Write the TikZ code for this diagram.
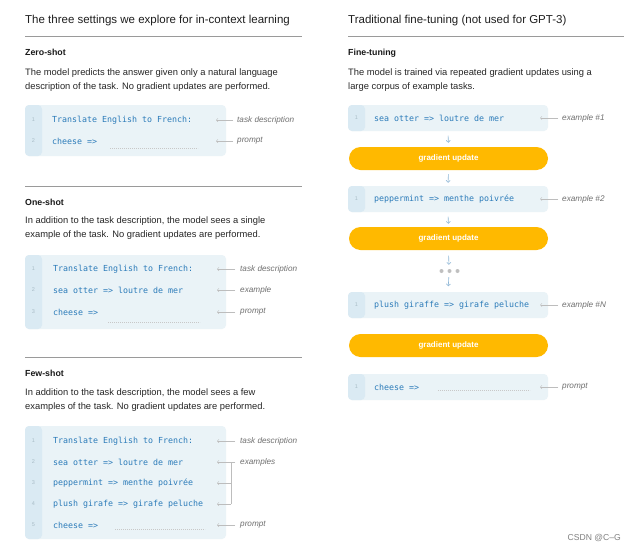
\documentclass[tikz,border=0pt]{standalone}
\usepackage{fontspec}
\setmainfont{Liberation Sans}
\setmonofont{DejaVu Sans Mono}
\usetikzlibrary{arrows.meta}
\definecolor{boxbg}{HTML}{EAF3F7}
\definecolor{stripec}{HTML}{DAEAF3}
\definecolor{codeblue}{HTML}{2B7BB9}
\definecolor{lnumc}{HTML}{A9BDC7}
\definecolor{notec}{HTML}{707070}
\definecolor{annc}{HTML}{BDBDBD}
\definecolor{rulec}{HTML}{9A9A9A}
\definecolor{gold}{HTML}{FFB900}
\definecolor{flowc}{HTML}{8DB6D6}
\definecolor{dotc}{HTML}{C8C8C8}
\tikzset{
  codebox/.style={fill=boxbg, rounded corners=4pt, inner sep=0pt, minimum width=#1,
    path picture={\fill[stripec] (path picture bounding box.north west) rectangle ([xshift=17pt]path picture bounding box.south west);}},
  codetxt/.style={anchor=west, font=\fontsize{8.3}{10}\ttfamily, text=codeblue, inner sep=0pt},
  lnum/.style={font=\fontsize{5.5}{6}\selectfont, text=lnumc, inner sep=0pt},
  note/.style={anchor=west, font=\fontsize{8.2}{9}\itshape, text=notec, inner sep=0pt},
  annarrow/.style={draw=annc, line width=0.5pt, -{Straight Barb[length=1.6pt,width=3.2pt]}},
  flowarrow/.style={draw=flowc, line width=0.6pt, -{Straight Barb[length=2pt,width=4pt]}},
  heading/.style={anchor=base west, font=\fontsize{11.5}{14}\selectfont, text=black!88, inner sep=0pt},
  subhead/.style={anchor=base west, font=\fontsize{8.8}{10}\bfseries, text=black!90, inner sep=0pt},
  body/.style={anchor=base west, font=\fontsize{9.35}{10}\selectfont, text=black!85, inner sep=0pt},
  rulel/.style={draw=rulec, line width=0.9pt},
  pill/.style={fill=gold, rounded corners=11.5pt, minimum width=199pt, minimum height=23pt, inner sep=0pt,
    font=\fontsize{8}{9}\bfseries, text=white},
  placeholder/.style={draw=dotc, line width=0.5pt, dash pattern=on 0.6pt off 1.4pt},
  dotnode/.style={circle, fill=black!25, minimum size=4pt, inner sep=0pt}
}
\begin{document}
\begin{tikzpicture}[x=1pt,y=-1pt]
\useasboundingbox[fill=white] (0,0) rectangle (635,552);

% ===== LEFT COLUMN =====
\node[heading] (tl) at (25,23.5) {The three settings we explore for in-context learning};
\coordinate (r1a) at (25,36); \coordinate (r1b) at (302,36);
\draw[rulel] (r1a) -- (r1b);

% Zero-shot
\node[subhead] (zs) at (25,55) {Zero-shot};
\node[body] (zs1) at (25,75) {The model predicts the answer given only a natural language};
\node[body] (zs2) at (25,89) {description of the task. No gradient updates are performed.};
\node[codebox=201pt, minimum height=51pt] (zbox) at (125.5,130.5) {};
\node[lnum] (zn1) at (33.5,120) {1};
\node[lnum] (zn2) at (33.5,141) {2};
\node[codetxt] (zc1) at (52,120) {Translate English to French:};
\node[codetxt] (zc2) at (52,141) {cheese =>};
\coordinate (zd1) at (110,148); \coordinate (zd2) at (198,148);
\draw[placeholder] (zd1) -- (zd2);
\node[note] (zl1) at (237,120) {task description};
\node[note] (zl2) at (237,141) {prompt};
\draw[annarrow] ([xshift=-4pt]zl1.west) -- ([xshift=-21pt]zl1.west);
\draw[annarrow] ([xshift=-4pt]zl2.west) -- ([xshift=-21pt]zl2.west);

\coordinate (r2a) at (25,186); \coordinate (r2b) at (302,186);
\draw[rulel] (r2a) -- (r2b);

% One-shot
\node[subhead] (os) at (25,205) {One-shot};
\node[body] (os1) at (25,223) {In addition to the task description, the model sees a single};
\node[body] (os2) at (25,237) {example of the task. No gradient updates are performed.};
\node[codebox=201pt, minimum height=74pt] (obox) at (125.5,292) {};
\node[lnum] (on1) at (33.5,269) {1};
\node[lnum] (on2) at (33.5,290) {2};
\node[lnum] (on3) at (33.5,312) {3};
\node[codetxt] (oc1) at (53,269) {Translate English to French:};
\node[codetxt] (oc2) at (53,290) {sea otter => loutre de mer};
\node[codetxt] (oc3) at (53,312) {cheese =>};
\coordinate (od1) at (108,322); \coordinate (od2) at (200,322);
\draw[placeholder] (od1) -- (od2);
\node[note] (ol1) at (240,269) {task description};
\node[note] (ol2) at (240,290) {example};
\node[note] (ol3) at (240,312) {prompt};
\draw[annarrow] ([xshift=-5pt]ol1.west) -- ([xshift=-23pt]ol1.west);
\draw[annarrow] ([xshift=-5pt]ol2.west) -- ([xshift=-23pt]ol2.west);
\draw[annarrow] ([xshift=-5pt]ol3.west) -- ([xshift=-23pt]ol3.west);

\coordinate (r3a) at (25,357); \coordinate (r3b) at (302,357);
\draw[rulel] (r3a) -- (r3b);

% Few-shot
\node[subhead] (fs) at (25,376) {Few-shot};
\node[body] (fs1) at (25,395) {In addition to the task description, the model sees a few};
\node[body] (fs2) at (25,409) {examples of the task. No gradient updates are performed.};
\node[codebox=201pt, minimum height=113pt] (fbox) at (125.5,482.5) {};
\node[lnum] (fn1) at (33.5,441) {1};
\node[lnum] (fn2) at (33.5,462) {2};
\node[lnum] (fn3) at (33.5,483) {3};
\node[lnum] (fn4) at (33.5,504) {4};
\node[lnum] (fn5) at (33.5,525) {5};
\node[codetxt] (fc1) at (53,441) {Translate English to French:};
\node[codetxt] (fc2) at (53,462) {sea otter => loutre de mer};
\node[codetxt] (fc3) at (53,483) {peppermint => menthe poivrée};
\node[codetxt] (fc4) at (53,504) {plush girafe => girafe peluche};
\node[codetxt] (fc5) at (53,525) {cheese =>};
\coordinate (fd1) at (115,529); \coordinate (fd2) at (205,529);
\draw[placeholder] (fd1) -- (fd2);
\node[note] (fl1) at (240,441) {task description};
\node[note] (fl2) at (240,462) {examples};
\node[note] (fl5) at (240,525) {prompt};
\draw[annarrow] ([xshift=-5pt]fl1.west) -- ([xshift=-23pt]fl1.west);
\draw[annarrow] ([xshift=-5pt]fl2.west) -- ([xshift=-23pt]fl2.west);
\draw[annarrow] ([xshift=-5pt]fl5.west) -- ([xshift=-23pt]fl5.west);
\coordinate (fb3) at (231,483); \coordinate (fb4) at (231,504);
\draw[draw=annc, line width=0.5pt] ([xshift=-9pt]fl2.west) -- (fb4);
\draw[annarrow] (fb3) -- ([xshift=-14pt]fb3);
\draw[annarrow] (fb4) -- ([xshift=-14pt]fb4);

% ===== RIGHT COLUMN =====
\node[heading] (tr) at (348,23.5) {Traditional fine-tuning (not used for GPT-3)};
\coordinate (r4a) at (348,36); \coordinate (r4b) at (624,36);
\draw[rulel] (r4a) -- (r4b);
\node[subhead] (ft) at (348,55) {Fine-tuning};
\node[body] (ft1) at (348,75) {The model is trained via repeated gradient updates using a};
\node[body] (ft2) at (348,89) {large corpus of example tasks.};

\node[codebox=200pt, minimum height=26pt] (b1) at (448,118) {};
\node[lnum] (bn1) at (356.5,118) {1};
\node[codetxt] (bc1) at (374,118) {sea otter => loutre de mer};
\node[note] (bl1) at (562,118) {example \#1};
\draw[annarrow] ([xshift=-4pt]bl1.west) -- ([xshift=-22pt]bl1.west);

\node[pill] (p1) at (448.5,158.5) {gradient update};
\draw[flowarrow, shorten <=4.5pt, shorten >=4pt] (b1.south) -- (p1.north);

\node[codebox=200pt, minimum height=26pt] (b2) at (448,199) {};
\node[lnum] (bn2) at (356.5,199) {1};
\node[codetxt] (bc2) at (374,199) {peppermint => menthe poivrée};
\node[note] (bl2) at (562,199) {example \#2};
\draw[annarrow] ([xshift=-4pt]bl2.west) -- ([xshift=-22pt]bl2.west);
\draw[flowarrow, shorten <=4pt, shorten >=3pt] (p1.south) -- (b2.north);

\node[pill] (p2) at (448.5,238.5) {gradient update};
\draw[flowarrow, shorten <=4.5pt, shorten >=3pt] (b2.south) -- (p2.north);

\node[inner sep=0pt, minimum width=24pt, minimum height=5pt] (dots) at (449,271) {};
\node[dotnode] (d1) at (441.5,271) {};
\node[dotnode] (d2) at (449.5,271) {};
\node[dotnode] (d3) at (457.5,271) {};
\draw[flowarrow, shorten <=5.5pt, shorten >=3.5pt] (p2.south) -- (dots.north);

\node[codebox=200pt, minimum height=26pt] (b3) at (448,305) {};
\node[lnum] (bn3) at (356.5,305) {1};
\node[codetxt] (bc3) at (374,305) {plush giraffe => girafe peluche};
\node[note] (bl3) at (562,305) {example \#N};
\draw[annarrow] ([xshift=-4pt]bl3.west) -- ([xshift=-22pt]bl3.west);
\draw[flowarrow, shorten <=3.5pt, shorten >=5.5pt] (dots.south) -- (b3.north);

\node[pill] (p3) at (448.5,345.5) {gradient update};

\node[codebox=200pt, minimum height=26pt] (b4) at (448,387) {};
\node[lnum] (bn4) at (356.5,387) {1};
\node[codetxt] (bc4) at (374,387) {cheese =>};
\coordinate (bd1) at (438,390); \coordinate (bd2) at (530,390);
\draw[placeholder] (bd1) -- (bd2);
\node[note] (bl4) at (562,387) {prompt};
\draw[annarrow] ([xshift=-4pt]bl4.west) -- ([xshift=-22pt]bl4.west);

\node[anchor=base east, font=\fontsize{8.6}{9}\selectfont, text=black!50, inner sep=0pt] (wm) at (621,540) {CSDN @C--G};
\end{tikzpicture}
\end{document}
